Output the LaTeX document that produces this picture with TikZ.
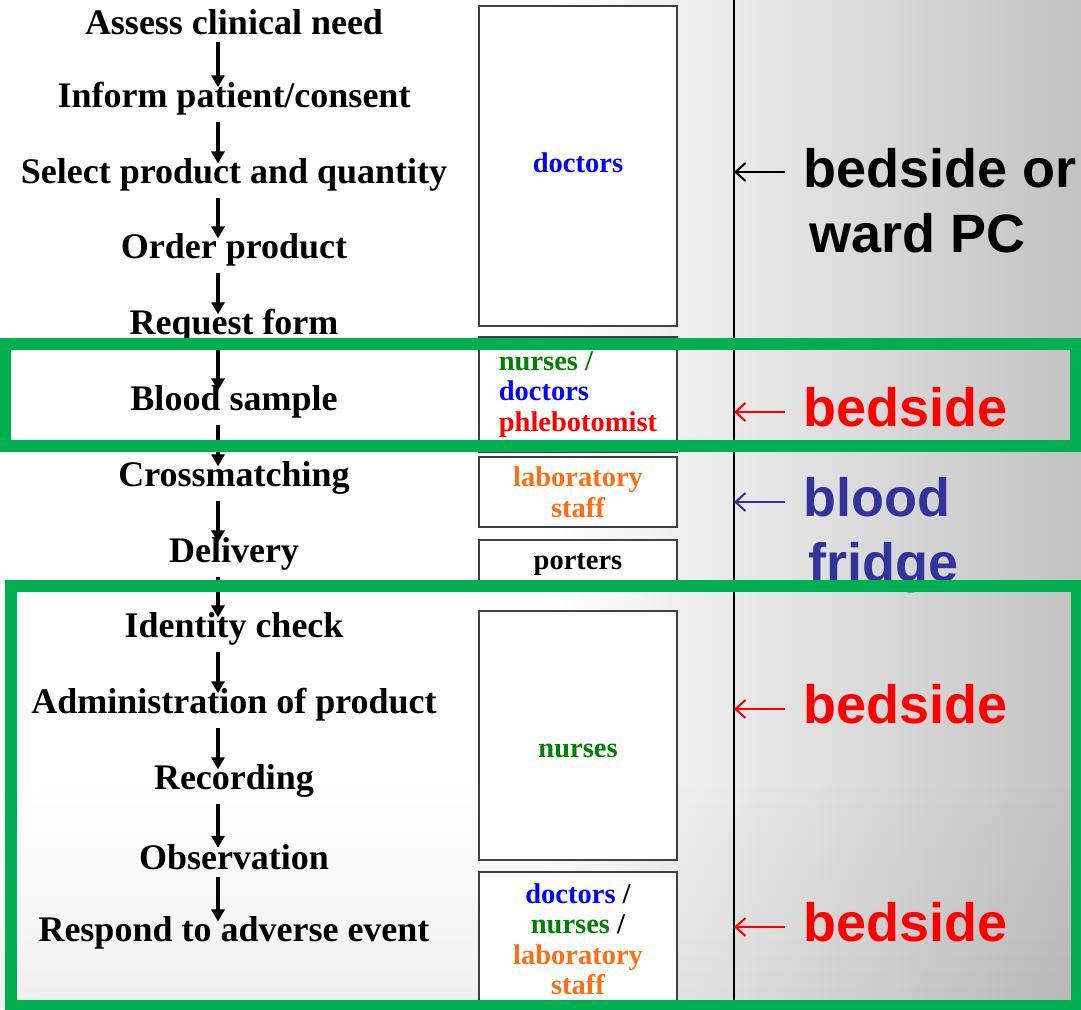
\documentclass[tikz,border=0pt]{standalone}
\usepackage{fontspec}
\setmainfont{Liberation Serif}
\setsansfont{Liberation Sans}
\usepackage{tikz}
\usetikzlibrary{arrows.meta,fadings,calc}

\definecolor{hlgreen}{RGB}{0,176,80}
\definecolor{docblue}{RGB}{0,0,255}
\definecolor{nursegreen}{RGB}{0,128,0}
\definecolor{labor}{RGB}{255,110,20}
\definecolor{fridgeblue}{RGB}{51,51,153}

\begin{document}
\begin{tikzpicture}[x=1pt,y=-1pt,
	stepnode/.style={font=\fontsize{36}{40}\selectfont\bfseries, inner sep=0pt, minimum height=28pt},
	flow/.style={-{Triangle[length=12pt,width=13pt]}, line width=3.3pt, shorten <=6pt, shorten >=-5pt},
	staffbox/.style={draw=black!75, line width=1.5pt, fill=white, minimum width=198pt, inner sep=0pt, font=\fontsize{28.5}{30.5}\selectfont\bfseries, align=center},
	placetxt/.style={font=\sffamily\bfseries\fontsize{54}{65}\selectfont, anchor=north west, align=left, inner sep=0pt},
	pointer/.style={-{Straight Barb[length=10pt,width=18pt]}, line width=2pt},
	hlbox/.style={draw=hlgreen, line width=12pt}]
			
			\useasboundingbox (0,0) rectangle (1081,1009);
			
			% background
			\shade[left color=white, right color=black!24, middle color=white] (0,0) rectangle (1081,1009);
			\fill[black, opacity=0.06, path fading=north] (0,780) rectangle (1081,1009);
			\coordinate (vline) at (734,0);
			\draw[line width=1.5pt] (vline) -- (734,1009);
			
			% steps
			\coordinate (ax) at (218,0);
			\node[stepnode] (s1) at (234,22) {Assess clinical need};
			\node[stepnode] (s2) at (234,99) {Inform patient/consent};
			\node[stepnode] (s3) at (234,175) {Select product and quantity};
			\node[stepnode] (s4) at (234,250) {Order product};
			\node[stepnode] (s5) at (234,326) {Request form};
			\node[stepnode] (s6) at (234,402) {Blood sample};
			\node[stepnode] (s7) at (234,478) {Crossmatching};
			\node[stepnode] (s8) at (234,554) {Delivery};
			\node[stepnode] (s9) at (234,629) {Identity check};
			\node[stepnode] (s10) at (234,705) {Administration of product};
			\node[stepnode] (s11) at (234,781) {Recording};
			\node[stepnode] (s12) at (234,857) {Observation};
			\node[stepnode] (s13) at (234,933) {Respond to adverse event};
			
			\draw[flow] (s1.south -| ax) -- (s2.north -| ax);
			\draw[flow] (s2.south -| ax) -- (s3.north -| ax);
			\draw[flow] (s3.south -| ax) -- (s4.north -| ax);
			\draw[flow] (s4.south -| ax) -- (s5.north -| ax);
			\draw[flow] (s5.south -| ax) -- (s6.north -| ax);
			\draw[flow] (s6.south -| ax) -- (s7.north -| ax);
			\draw[flow] (s7.south -| ax) -- (s8.north -| ax);
			\draw[flow] (s8.south -| ax) -- (s9.north -| ax);
			\draw[flow] (s9.south -| ax) -- (s10.north -| ax);
			\draw[flow] (s10.south -| ax) -- (s11.north -| ax);
			\draw[flow] (s11.south -| ax) -- (s12.north -| ax);
			\draw[flow] (s12.south -| ax) -- (s13.north -| ax);
			
			% who does it
			\node[staffbox, minimum height=320pt, text=docblue] (b1) at (578,166) {\raisebox{-6pt}[0pt][0pt]{doctors}};
			\node[staffbox, minimum height=115pt, align=left] (b2) at (578,394.5) {\textcolor{nursegreen}{nurses /}\\\textcolor{docblue}{doctors}\\\textcolor{red}{phlebotomist}};
			\node[staffbox, minimum height=70pt, text=labor] (b3) at (578,492) {laboratory\\staff};
			\node[staffbox, minimum height=50pt] (b4) at (578,565) {porters};
			\node[staffbox, minimum height=249pt, text=nursegreen] (b5) at (578,735.5) {\raisebox{-22pt}[0pt][0pt]{nurses}};
			\node[staffbox, minimum height=134pt] (b6) at (578,939) {\textcolor{docblue}{doctors} /\\\textcolor{nursegreen}{nurses} /\\\textcolor{labor}{laboratory}\\\textcolor{labor}{staff}};
			
			% where
			\node[placetxt] (pc) at (803,148) {bedside or\\\hspace*{6pt}ward PC};
			\node[placetxt, text=red] (bs1) at (803,387) {bedside};
			\node[placetxt, text=fridgeblue] (fr) at (803,477) {blood\\\hspace*{5pt}fridge};
			\node[placetxt, text=red] (bs2) at (803,684) {bedside};
			\node[placetxt, text=red] (bs3) at (803,902) {bedside};
			
			\coordinate (p1) at ($(pc.north west)+(-18,24)$);
			\coordinate (p2) at ($(bs1.north west)+(-18,25)$);
			\coordinate (p3) at ($(fr.north west)+(-18,25)$);
			\coordinate (p4) at ($(bs2.north west)+(-18,25)$);
			\coordinate (p5) at ($(bs3.north west)+(-18,25)$);
			\draw[pointer] (p1) -- (p1 -| vline);
			\draw[pointer, red] (p2) -- (p2 -| vline);
			\draw[pointer, fridgeblue] (p3) -- (p3 -| vline);
			\draw[pointer, red] (p4) -- (p4 -| vline);
			\draw[pointer, red] (p5) -- (p5 -| vline);
			
			% bedside tasks
			\draw[hlbox] (5,344) rectangle (1076,446);
			\draw[hlbox] (11,586) rectangle (1077,1006);
			
\end{tikzpicture}
\end{document}
